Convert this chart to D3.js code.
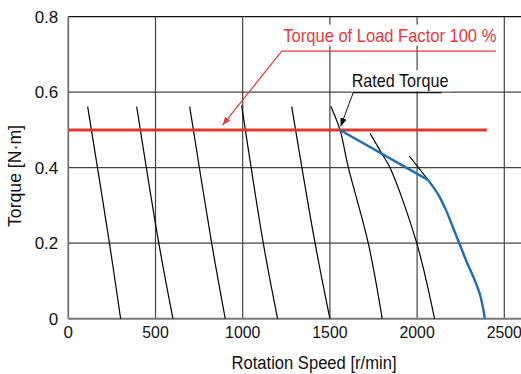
<!DOCTYPE html>
<html>
<head>
<meta charset="utf-8">
<script src="https://cdn.jsdelivr.net/npm/d3@7"></script>
<style>
  body { margin: 0; background: #fff; }
  svg { display: block; }
  text { font-family: "Liberation Sans", Arial, sans-serif; }
</style>
</head>
<body>
<div id="chart"></div>
<script>
// ticks
const speedTicks = [0, 500, 1000, 1500, 2000, 2500];
const torqueTicks = [0, 0.2, 0.4, 0.6, 0.8];

// speed-torque curves [speed r/min, torque N·m]
const curve300 = [[111, 0.562], [236, 0.2], [300, 0]];
const curve600 = [[392, 0.562], [519, 0.2], [600, 0]];
const curve900 = [[696, 0.562], [822, 0.2], [900, 0]];
const curve1200 = [[994, 0.565], [1118, 0.2], [1200, 0]];
const curve1500 = [[1281, 0.562], [1415, 0.2], [1500, 0]];
const curve1800 = [[1505, 0.563], [1558, 0.5], [1606, 0.4], [1720, 0.2], [1800, 0]];
const curve2100 = [[1730, 0.491], [1797, 0.438], [1845, 0.4], [1998, 0.2], [2100, 0]];
const curve2400 = [[1955, 0.431], [2064, 0.367]];

// rated torque line (load factor 100 %)
const ratedTorque = [[0, 0.5], [2400, 0.5]];

// permissible operating limit (blue)
const limitFlat = [[1558, 0.5], [2064, 0.367]];
const limitDrop = [
  [2064, 0.367], [2122, 0.328], [2170, 0.283], [2208, 0.239], [2242, 0.2],
  [2284, 0.151], [2326, 0.107], [2361, 0.063], [2389, 0]
];

const width = 521;
const height = 374;

const x = d3.scaleLinear().domain([0, 2500]).range([68.3, 504.3]);
const y = d3.scaleLinear().domain([0, 0.8]).range([318.7, 16.7]);
const xEnd = width;

const svg = d3
  .select("#chart")
  .append("svg")
  .attr("width", width)
  .attr("height", height);

const defs = svg.append("defs");
function addArrow(id, color) {
  defs
    .append("marker")
    .attr("id", id)
    .attr("viewBox", "0 0 10 10")
    .attr("refX", 10)
    .attr("refY", 5)
    .attr("markerWidth", 8)
    .attr("markerHeight", 8)
    .attr("markerUnits", "userSpaceOnUse")
    .attr("orient", "auto")
    .append("path")
    .attr("d", "M0,1 L10,5 L0,9 Z")
    .attr("fill", color);
}
addArrow("arrowRed", "#e8383d");
addArrow("arrowBlack", "#000");

// grid
const grid = svg.append("g");
grid
  .selectAll(".hgrid")
  .data(torqueTicks.filter((d) => d > 0))
  .enter()
  .append("line")
  .attr("x1", x(0))
  .attr("x2", xEnd)
  .attr("y1", (d) => y(d))
  .attr("y2", (d) => y(d))
  .attr("stroke", (d) => (d === 0.8 ? "#111" : "#444"))
  .attr("stroke-width", 1.2);

grid
  .selectAll(".vgrid")
  .data(speedTicks.filter((d) => d > 0))
  .enter()
  .append("line")
  .attr("x1", (d) => x(d))
  .attr("x2", (d) => x(d))
  .attr("y1", y(0.8))
  .attr("y2", y(0))
  .attr("stroke", "#444")
  .attr("stroke-width", 1.2);

// axes lines
svg
  .append("line")
  .attr("x1", x(0))
  .attr("x2", x(0))
  .attr("y1", y(0.8))
  .attr("y2", y(0))
  .attr("stroke", "#666")
  .attr("stroke-width", 1.6);
svg
  .append("line")
  .attr("x1", x(0))
  .attr("x2", xEnd)
  .attr("y1", y(0))
  .attr("y2", y(0))
  .attr("stroke", "#777")
  .attr("stroke-width", 2);

// tick labels
svg
  .selectAll(".ylab")
  .data(torqueTicks)
  .enter()
  .append("text")
  .attr("x", x(0) - 10)
  .attr("y", (d) => y(d))
  .attr("dy", "0.36em")
  .attr("text-anchor", "end")
  .attr("font-size", 17)
  .attr("fill", "#111")
  .text((d) => (d === 0 ? "0" : d3.format(".1f")(d)));

svg
  .selectAll(".xlab")
  .data(speedTicks)
  .enter()
  .append("text")
  .attr("x", (d) => x(d))
  .attr("y", y(0) + 19)
  .attr("text-anchor", "middle")
  .attr("font-size", 17)
  .attr("textLength", (d) => (d === 0 ? null : String(d).length * 8.8))
  .attr("lengthAdjust", "spacingAndGlyphs")
  .attr("fill", "#111")
  .text((d) => d);

svg
  .append("text")
  .attr("x", 314)
  .attr("y", 368.5)
  .attr("text-anchor", "middle")
  .attr("font-size", 18)
  .attr("textLength", 165)
  .attr("lengthAdjust", "spacingAndGlyphs")
  .attr("fill", "#111")
  .text("Rotation Speed [r/min]");

svg
  .append("text")
  .attr("transform", `translate(21,176) rotate(-90)`)
  .attr("text-anchor", "middle")
  .attr("font-size", 18)
  .attr("textLength", 102)
  .attr("lengthAdjust", "spacingAndGlyphs")
  .attr("fill", "#111")
  .text("Torque [N·m]");

// black speed-torque curves
const line = d3
  .line()
  .x((d) => x(d[0]))
  .y((d) => y(d[1]))
  .curve(d3.curveCatmullRom.alpha(0.5));

const curves = [curve300, curve600, curve900, curve1200, curve1500, curve1800, curve2100, curve2400];
svg
  .selectAll(".curve")
  .data(curves)
  .enter()
  .append("path")
  .attr("d", line)
  .attr("fill", "none")
  .attr("stroke", "#000")
  .attr("stroke-width", 1.2);

// red rated torque line
svg
  .append("path")
  .attr("d", d3.line().x((d) => x(d[0])).y((d) => y(d[1]))(ratedTorque))
  .attr("fill", "none")
  .attr("stroke", "#dc3a2e")
  .attr("stroke-width", 3);

// blue limit
svg
  .append("path")
  .attr("d", d3.line().x((d) => x(d[0])).y((d) => y(d[1]))(limitFlat))
  .attr("fill", "none")
  .attr("stroke", "#1f6db4")
  .attr("stroke-width", 2.4);
svg
  .append("path")
  .attr("d", line(limitDrop))
  .attr("fill", "none")
  .attr("stroke", "#1f6db4")
  .attr("stroke-width", 2.4);

// annotation: load factor
const redBg = svg.append("rect").attr("fill", "#fff");
const redText = svg
  .append("text")
  .attr("x", x(1233))
  .attr("y", y(0.734))
  .attr("font-size", 18.5)
  .attr("textLength", 213)
  .attr("lengthAdjust", "spacingAndGlyphs")
  .attr("fill", "#e8383d")
  .text("Torque of Load Factor 100 %");
const rb = redText.node().getBBox();
redBg
  .attr("x", rb.x - 2)
  .attr("y", rb.y)
  .attr("width", rb.width + 4)
  .attr("height", rb.height);

svg
  .append("line")
  .attr("x1", x(1224))
  .attr("x2", x(2452))
  .attr("y1", y(0.709))
  .attr("y2", y(0.709))
  .attr("stroke", "#e8383d")
  .attr("stroke-width", 1.2);
svg
  .append("line")
  .attr("x1", x(1224))
  .attr("y1", y(0.709))
  .attr("x2", x(885))
  .attr("y2", y(0.513))
  .attr("stroke", "#e8383d")
  .attr("stroke-width", 1.2)
  .attr("marker-end", "url(#arrowRed)");

// annotation: rated torque
const blackBg = svg.append("rect").attr("fill", "#fff");
const blackText = svg
  .append("text")
  .attr("x", x(1625))
  .attr("y", y(0.613))
  .attr("font-size", 18.5)
  .attr("textLength", 96.7)
  .attr("lengthAdjust", "spacingAndGlyphs")
  .attr("fill", "#111")
  .text("Rated Torque");
const bb = blackText.node().getBBox();
blackBg
  .attr("x", bb.x - 2)
  .attr("y", bb.y)
  .attr("width", bb.width + 4)
  .attr("height", bb.height);

svg
  .append("line")
  .attr("x1", x(1632))
  .attr("x2", x(2141))
  .attr("y1", y(0.599))
  .attr("y2", y(0.599))
  .attr("stroke", "#111")
  .attr("stroke-width", 1.2);
svg
  .append("line")
  .attr("x1", x(1634))
  .attr("y1", y(0.599))
  .attr("x2", x(1562))
  .attr("y2", y(0.51))
  .attr("stroke", "#111")
  .attr("stroke-width", 1)
  .attr("marker-end", "url(#arrowBlack)");
</script>
</body>
</html>
